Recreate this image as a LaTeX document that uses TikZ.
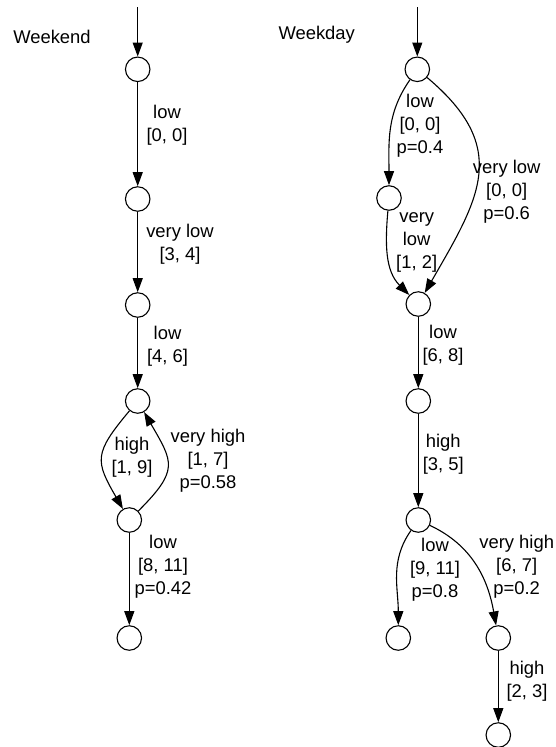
\documentclass[tikz,border=0pt]{standalone}
\usepackage{fontspec}
\setmainfont{Liberation Sans}
\usetikzlibrary{arrows.meta}
\begin{document}
\begin{tikzpicture}[x=1pt,y=-1pt,
  state/.style={draw, circle, minimum size=24.5pt, inner sep=0pt, line width=1.1pt},
  lbl/.style={align=center, inner sep=0pt, font=\fontsize{18.4}{23.2}\selectfont},
  tr/.style={line width=1.1pt, -{Triangle[length=14pt,width=10pt]}}]
\useasboundingbox (0,0) rectangle (555,747);

% weekend
\node[lbl] (weekend) at (52,37) {Weekend};
\coordinate (we0) at (137.7,7);
\node[state] (we1) at (137.7,69.3) {};
\node[state] (we2) at (137.7,199) {};
\node[state] (we3) at (137.7,305) {};
\node[state] (we4) at (137.7,401) {};
\node[state] (we5) at (129.3,520) {};
\node[state] (we6) at (129.3,638) {};

\draw[tr] (we0) -- (we1);
\draw[tr] (we1) -- (we2);
\draw[tr] (we2) -- (we3);
\draw[tr] (we3) -- (we4);
\draw[tr] (we4) to[out=230,in=120,looseness=1.45] (we5);
\draw[tr] (we5) to[out=45,in=-60,looseness=1.5] (we4);
\draw[tr] (we5) -- (we6);

\node[lbl] (lwe1) at (167,125.5) {low\\ {[0, 0]}};
\node[lbl] (lwe2) at (180,244.5) {very low\\ {[3, 4]}};
\node[lbl] (lwe3) at (167.5,346) {low\\ {[4, 6]}};
\node[lbl] (lwe4) at (132,457.5) {high\\ {[1, 9]}};
\node[lbl] (lwe5) at (208,460.5) {very high\\ {[1, 7]}\\ p=0.58};
\node[lbl] (lwe6) at (163,566.5) {low\\ {[8, 11]}\\ p=0.42};

% weekday
\node[lbl] (weekday) at (316.7,35) {Weekday};
\coordinate (wd0) at (417.3,7);
\node[state] (wd1) at (417.3,69.3) {};
\node[state] (wd2) at (389,198) {};
\node[state] (wd3) at (418.3,304) {};
\node[state] (wd4) at (418.3,401) {};
\node[state] (wd5) at (418.3,520) {};
\node[state] (wd6) at (398.3,638) {};
\node[state] (wd7) at (498.3,638) {};
\node[state] (wd8) at (498.3,735) {};

\draw[tr] (wd0) -- (wd1);
\draw[tr] (wd1) to[out=235,in=90] (wd2);
\draw[tr] (wd1) to[out=-40,in=60,looseness=1.3] (wd3);
\draw[tr] (wd2) to[out=-95,in=135] (wd3);
\draw[tr] (wd3) -- (wd4);
\draw[tr] (wd4) -- (wd5);
\draw[tr] (wd5) to[out=235,in=90] (wd6);
\draw[tr] (wd5) to[out=-25,in=100] (wd7);
\draw[tr] (wd7) -- (wd8);

\node[lbl] (lwd1) at (420,126) {low\\ {[0, 0]}\\ p=0.4};
\node[lbl] (lwd2) at (506.7,191.5) {very low\\ {[0, 0]}\\ p=0.6};
\node[lbl] (lwd3) at (416.7,242.5) {very\\ low\\ {[1, 2]}};
\node[lbl] (lwd4) at (443,345) {low\\ {[6, 8]}};
\node[lbl] (lwd5) at (443.3,454.5) {high\\ {[3, 5]}};
\node[lbl] (lwd6) at (435,570) {low\\ {[9, 11]}\\ p=0.8};
\node[lbl] (lwd7) at (516.7,566.5) {very high\\ {[6, 7]}\\ p=0.2};
\node[lbl] (lwd8) at (527,681.5) {high\\ {[2, 3]}};
\end{tikzpicture}
\end{document}
